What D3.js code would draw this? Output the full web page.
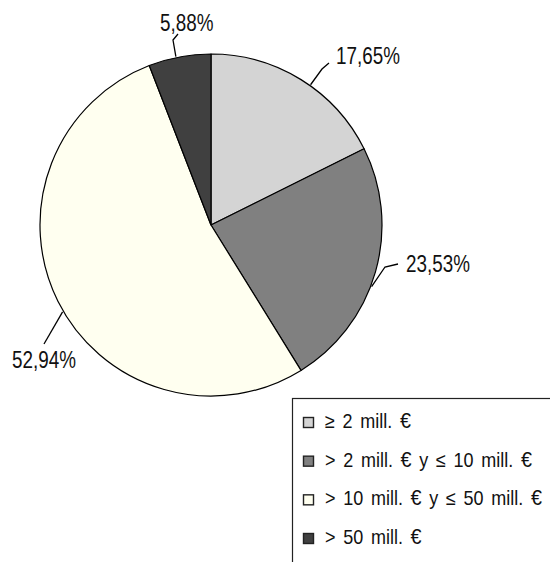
<!DOCTYPE html>
<html><head><meta charset="utf-8">
<script src="https://cdn.jsdelivr.net/npm/d3@7"></script>
<style>
html,body{margin:0;padding:0;background:#fff;}
svg{display:block;}
text{font-family:"Liberation Sans","Arial",sans-serif;fill:#111;}
</style></head>
<body>
<svg id="chart" width="550" height="562"></svg>
<script>
// ---- data ----
const categories = ["≥ 2 mill. €", "> 2 mill. € y ≤ 10 mill. €", "> 10 mill. € y ≤ 50 mill. €", "> 50 mill. €"];
const values = [17.65, 23.53, 52.94, 5.88];
const valueLabels = ["17,65%", "23,53%", "52,94%", "5,88%"];
const colors = ["#d4d4d4", "#808080", "#fffff0", "#404040"];

// ---- layout ----
const cx = 211, cy = 225, R = 171;
// label layout: leader start angle offset (deg) from slice middle, extra leader points, text pos
const labelLayout = [
  {dAng: 3.6,  pts: [[322, 69], [329, 63]],  text: [336, 64]},
  {dAng: 5.1,  pts: [[385, 267], [398, 264]], text: [406, 272]},
  {dAng: -3.9, pts: [[44, 344]],             text: [12, 368]},
  {dAng: -1.2, pts: [[173, 40], [178, 34]],  text: [160, 31]}
];

const svg = d3.select("#chart");
const g = svg.append("g").attr("transform", `translate(${cx},${cy})`);

const pie = d3.pie().sort(null).value(d => d);
const arcs = pie(values);
const arc = d3.arc().innerRadius(0).outerRadius(R);

g.selectAll("path.slice").data(arcs).enter().append("path")
  .attr("class", "slice")
  .attr("d", arc)
  .attr("fill", (d, i) => colors[i])
  .attr("stroke", "#000")
  .attr("stroke-width", 1.2)
  .attr("stroke-linejoin", "round");

function polar(r, a) { return [cx + r * Math.sin(a), cy - r * Math.cos(a)]; }

arcs.forEach((d, i) => {
  const L = labelLayout[i];
  const a = (d.startAngle + d.endAngle) / 2 + L.dAng * Math.PI / 180;
  const pts = [polar(R + 1, a)].concat(L.pts);
  svg.append("path")
    .attr("d", d3.line()(pts))
    .attr("fill", "none")
    .attr("stroke", "#000")
    .attr("stroke-width", 1.3);
  svg.append("text")
    .attr("transform", `translate(${L.text[0]},${L.text[1]}) scale(0.82,1)`)
    .attr("font-size", 23)
    .text(valueLabels[i]);
});

// ---- legend ----
const lg = svg.append("g");
lg.append("rect").attr("x", 292.5).attr("y", 398.5).attr("width", 300).attr("height", 200)
  .attr("fill", "#fff").attr("stroke", "#222").attr("stroke-width", 1.2);
const rowY = d3.scalePoint().domain(d3.range(categories.length)).range([428, 544]);
categories.forEach((c, i) => {
  const y = rowY(i);
  lg.append("rect").attr("x", 303.5).attr("y", y - 10.5).attr("width", 10).attr("height", 10)
    .attr("fill", colors[i]).attr("stroke", "#222").attr("stroke-width", 1.4);
  const t = lg.append("text").attr("transform", `translate(325,${y}) scale(0.9,1)`)
    .attr("font-size", 20)
    .attr("word-spacing", 3);
  c.split("€").forEach((part, k, arr) => {
    t.append("tspan").text(part);
    if (k < arr.length - 1) t.append("tspan").attr("font-size", 22).text("€");
  });
});
</script>
</body></html>
